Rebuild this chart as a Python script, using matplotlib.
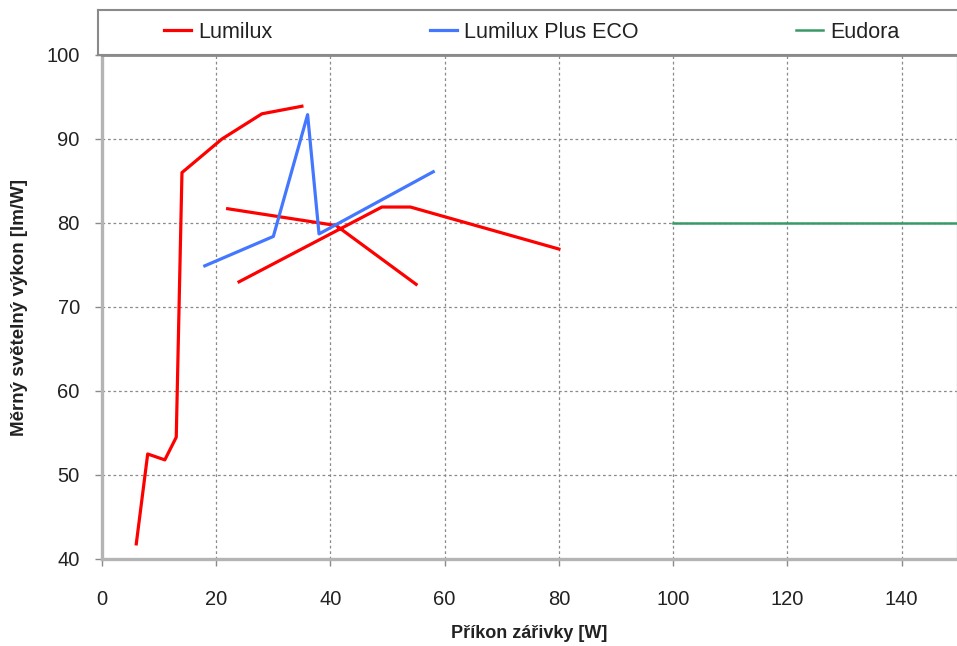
import numpy as np
import matplotlib
matplotlib.use("Agg")
import matplotlib.pyplot as plt

plt.rcParams['font.family'] = ['Liberation Sans', 'DejaVu Sans']

# Data (NaN separates distinct lamp families within the series)
lumilux_x = [6, 8, 11, 13, 14, 21, 28, 35, np.nan, 22, 41, 55, np.nan, 24, 49, 54, 80]
lumilux_y = [41.8, 52.5, 51.8, 54.5, 86.0, 90.0, 93.0, 93.9, np.nan, 81.7, 79.7, 72.7, np.nan, 73.0, 81.9, 81.9, 76.9]
eco_x = [18, 30, 36, 38, 58]
eco_y = [74.9, 78.4, 92.9, 78.7, 86.1]
eudora_x = [100, 150]
eudora_y = [80, 80]
labels = ["Lumilux", "Lumilux Plus ECO", "Eudora"]
xticks = [0, 20, 40, 60, 80, 100, 120, 140]
yticks = [40, 50, 60, 70, 80, 90, 100]

W, H = 957, 646
fig = plt.figure(figsize=(W / 100, H / 100), dpi=100)

def fx(px):
    return px / W

def fy(py):
    return 1 - py / H

ax = fig.add_axes([fx(102), fy(559), fx(957) - fx(102), fy(55) - fy(559)])
l1, = ax.plot(lumilux_x, lumilux_y, color="#ff0000", lw=2.3, zorder=3)
l2, = ax.plot(eco_x, eco_y, color="#4477ff", lw=2.3, zorder=3)
l3, = ax.plot(eudora_x, eudora_y, color="#3a9a66", lw=1.8, zorder=3)

ax.set_xlim(0, 149.7)
ax.set_ylim(40, 100)
ax.set_xticks(xticks)
ax.set_yticks(yticks)
ax.grid(True, color="#8a8a8a", linestyle=(0, (2.2, 2.2)), linewidth=0.9)
ax.set_axisbelow(True)

for s in ["left", "bottom"]:
    ax.spines[s].set_color("#b4b4b4")
    ax.spines[s].set_linewidth(2.4)
ax.spines["top"].set_color("#8a8a8a")
ax.spines["top"].set_linewidth(2.0)
ax.spines["right"].set_color("#d0d0d0")
ax.spines["right"].set_linewidth(1.0)

ax.tick_params(axis="both", direction="out", length=5, width=1.0, color="#8a8a8a",
               labelsize=14.5, labelcolor="#222222")
ax.tick_params(axis="x", pad=17)
ax.tick_params(axis="y", pad=11)

ax.set_xlabel("Příkon zářivky [W]", fontsize=13, fontweight="bold", color="#222222")
ax.xaxis.set_label_coords(0.5, -0.13)
ax.set_ylabel("Měrný světelný výkon [lm/W]", fontsize=13.5, fontweight="bold", color="#222222")
ax.yaxis.set_label_coords(-0.087, 0.5)

# Legend box above the plot
lax = fig.add_axes([fx(98), fy(55), fx(957) - fx(98), fy(10) - fy(55)])
lax.set_xticks([])
lax.set_yticks([])
for s in lax.spines.values():
    s.set_color("#8a8a8a")
    s.set_linewidth(1.5)
lax.spines["right"].set_visible(False)
lax.legend([l1, l2, l3], labels, loc="center", ncol=3, frameon=False,
           fontsize=15.5, handlelength=1.25, handletextpad=0.35, columnspacing=7.3,
           labelcolor="#222222", bbox_to_anchor=(0.505, 0.5))

fig.savefig("out.png", dpi=100)
